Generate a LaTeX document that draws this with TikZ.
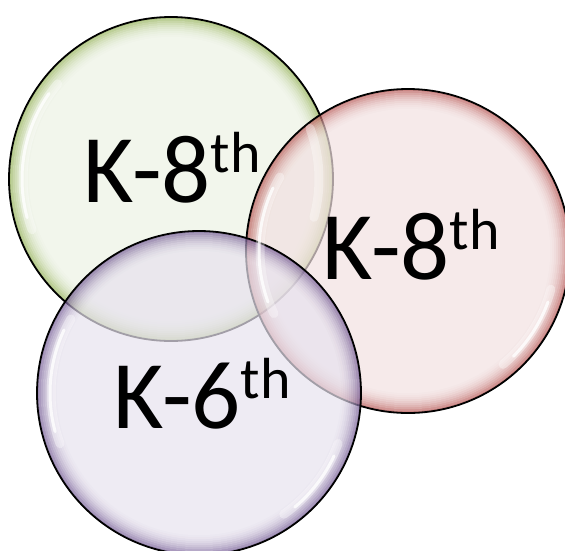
\documentclass[tikz,border=0pt]{standalone}
\usepackage{fontspec}
\setmainfont{Carlito}
\definecolor{gC}{HTML}{ECF2E4}
\definecolor{gE}{HTML}{8FAE50}
\definecolor{rC}{HTML}{F2E1E1}
\definecolor{rE}{HTML}{B4504D}
\definecolor{pC}{HTML}{E7E2EE}
\definecolor{pE}{HTML}{6E5590}
\tikzset{
  bubble/.style={circle, minimum size=324pt, inner sep=0pt},
  rim/.style={draw=black, line width=1.8pt},
  shine/.style={white, line width=3pt, opacity=.8, line cap=round},
  glow/.style={white, line width=9pt, opacity=.35, line cap=round},
  label/.style={anchor=base west, inner sep=0pt, font=\fontsize{97}{100}\selectfont, text=black},
}
\newcommand{\supth}{\raisebox{30pt}{\fontsize{58}{60}\selectfont th}}
\newcommand{\glassbubble}[3]{%
  \begin{scope}[transparency group, opacity=.7]
    \fill[#2] (#1.center) circle[radius=162];
    \foreach \i in {0,...,10}{
      \pgfmathtruncatemacro\pc{100*(1-\i/11)^2}
      \draw[line width=2.3pt, color={#3!\pc!#2}] (#1.center) circle[radius=161-2*\i];
    }
  \end{scope}
  \draw[rim] (#1.center) circle[radius=162];
}
\begin{document}
\begin{tikzpicture}[x=1pt,y=1pt]
\useasboundingbox (0,0) rectangle (565,-550);
\node[bubble] (g) at (171,-179) {};
\node[bubble] (r) at (408,-251) {};
\node[bubble] (p) at (199,-393) {};
\glassbubble{g}{gC}{gE}
\glassbubble{r}{rC}{rE}
\glassbubble{p}{pC}{pE}
\draw[glow] (g.center) ++(140:148) arc[start angle=140, end angle=200, radius=148];
\draw[shine] (g.center) ++(145:149) arc[start angle=145, end angle=195, radius=149];
\draw[glow] (g.center) ++(-15:148) arc[start angle=-15, end angle=20, radius=148];
\draw[glow] (r.center) ++(150:148) arc[start angle=150, end angle=205, radius=148];
\draw[shine] (r.center) ++(155:149) arc[start angle=155, end angle=200, radius=149];
\draw[glow] (r.center) ++(-50:148) arc[start angle=-50, end angle=-15, radius=148];
\draw[shine] (r.center) ++(-45:149) arc[start angle=-45, end angle=-20, radius=149];
\draw[glow] (p.center) ++(150:148) arc[start angle=150, end angle=200, radius=148];
\draw[shine] (p.center) ++(155:149) arc[start angle=155, end angle=195, radius=149];
\draw[glow] (p.center) ++(-55:148) arc[start angle=-55, end angle=-20, radius=148];
\draw[shine] (p.center) ++(-50:149) arc[start angle=-50, end angle=-25, radius=149];
\node[label] (tg) at (83,-202) {K-8\supth};
\node[label] (tr) at (322,-279) {K-8\supth};
\node[label] (tp) at (113,-428) {K-6\supth};
\end{tikzpicture}
\end{document}
